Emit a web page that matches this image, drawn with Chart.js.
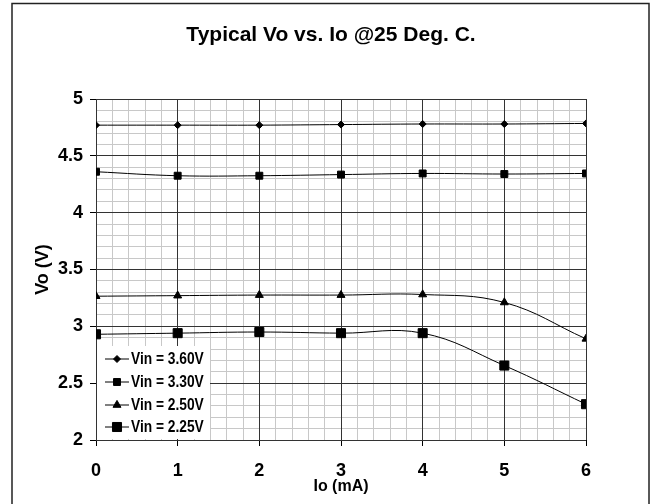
<!DOCTYPE html>
<html>
<head>
<meta charset="utf-8">
<script src="https://cdn.jsdelivr.net/npm/chart.js@4/dist/chart.umd.min.js"></script>
<style>
  html, body { margin: 0; padding: 0; background: #fff; }
  #wrap { width: 654px; height: 504px; }
</style>
</head>
<body>
<div id="wrap"><canvas id="vo-chart" width="654" height="504"></canvas></div>
<script>
const FONT = '"Liberation Sans", Arial, sans-serif';

// data
const ioValues = [0, 1, 2, 3, 4, 5, 6];
const vin360 = [4.77, 4.77, 4.77, 4.775, 4.78, 4.78, 4.785];
const vin330 = [4.36, 4.325, 4.325, 4.335, 4.345, 4.34, 4.345];
const vin250 = [3.265, 3.27, 3.275, 3.275, 3.28, 3.21, 2.89];
const vin225 = [2.93, 2.94, 2.95, 2.94, 2.94, 2.655, 2.315];

const chartTitle = 'Typical Vo vs. Io @25 Deg. C.';
const seriesLabels = ['Vin = 3.60V', 'Vin = 3.30V', 'Vin = 2.50V', 'Vin = 2.25V'];
const xTickLabels = [0, 1, 2, 3, 4, 5, 6];
const yTickLabels = [2, 2.5, 3, 3.5, 4, 4.5, 5];
const xMinorStep = 0.2;
const yMinorStep = 0.1;

const markers = [
    { style: 'rectRot', radius: 3.5 },
    { style: 'rect', radius: 4.9 },
    { style: 'triangle', radius: 4.6 },
    { style: 'rect', radius: 6.4 }
];

const toPoints = (ys) => ys.map((y, i) => ({ x: ioValues[i], y: y }));

const isMajor = (v, list) => list.some(t => Math.abs(t - v) < 1e-6);

// same rounding chart.js uses for 1px grid lines
const alignPx = (p) => Math.round(p - 0.5) + 0.5;

function minorTicks(min, max, step) {
    const out = [];
    const n = Math.round((max - min) / step);
    for (let i = 0; i <= n; i++) out.push({ value: +(min + i * step).toFixed(4) });
    return out;
}

function makeSet(label, ys, m) {
    return {
        label: label,
        data: toPoints(ys),
        borderColor: '#000',
        borderWidth: 1,
        backgroundColor: '#000',
        pointStyle: m.style,
        pointRadius: m.radius,
        pointHoverRadius: m.radius,
        pointBackgroundColor: '#000',
        pointBorderColor: '#000',
        pointBorderWidth: 1,
        tension: 0.4,
        fill: false
    };
}

function drawMarker(ctx, style, r, x, y) {
    ctx.beginPath();
    if (style === 'rect') {
        const s = r * Math.SQRT1_2;
        ctx.rect(x - s, y - s, 2 * s, 2 * s);
    } else if (style === 'rectRot') {
        ctx.moveTo(x - r, y); ctx.lineTo(x, y - r); ctx.lineTo(x + r, y); ctx.lineTo(x, y + r);
        ctx.closePath();
    } else {
        for (let k = 0; k < 3; k++) {
            const a = -Math.PI / 2 + k * 2 * Math.PI / 3;
            const px = x + Math.cos(a) * r, py = y + Math.sin(a) * r;
            k === 0 ? ctx.moveTo(px, py) : ctx.lineTo(px, py);
        }
        ctx.closePath();
    }
    ctx.fill();
    ctx.stroke();
}

// outer frame, title, major grid on top of the minor one, inside legend box
const framePlugin = {
    id: 'frame',
    beforeDraw(chart) {
        const ctx = chart.ctx;
        ctx.save();
        ctx.fillStyle = '#fff';
        ctx.fillRect(0, 0, chart.width, chart.height);
        ctx.strokeStyle = '#222';
        ctx.lineWidth = 1.5;
        ctx.strokeRect(12, 3.5, 637, 520);
        ctx.font = 'bold 21px ' + FONT;
        ctx.fillStyle = '#000';
        ctx.textAlign = 'center';
        ctx.textBaseline = 'middle';
        ctx.fillText(chartTitle, 331, 35);
        ctx.restore();
    },
    beforeDatasetsDraw(chart) {
        const ctx = chart.ctx;
        const a = chart.chartArea;
        const xs = chart.scales.x, ys = chart.scales.y;
        ctx.save();
        ctx.strokeStyle = '#333';
        ctx.lineWidth = 1;
        ctx.beginPath();
        xTickLabels.forEach(v => {
            const px = alignPx(xs.getPixelForValue(v));
            ctx.moveTo(px, a.top); ctx.lineTo(px, a.bottom);
        });
        yTickLabels.forEach(v => {
            const py = alignPx(ys.getPixelForValue(v));
            ctx.moveTo(a.left, py); ctx.lineTo(a.right, py);
        });
        ctx.stroke();
        ctx.restore();
    },
    afterDraw(chart) {
        const ctx = chart.ctx;
        ctx.save();
        ctx.fillStyle = '#fff';
        ctx.fillRect(97, 346, 113, 93);
        const rows = [359, 382, 405, 427];
        ctx.strokeStyle = '#000';
        ctx.fillStyle = '#000';
        ctx.lineWidth = 1;
        rows.forEach((ry, i) => {
            ctx.beginPath();
            ctx.moveTo(105, ry);
            ctx.lineTo(129, ry);
            ctx.stroke();
            drawMarker(ctx, markers[i].style, markers[i].radius, 117, ry);
            ctx.save();
            ctx.translate(131, ry);
            ctx.scale(0.86, 1);
            ctx.font = 'bold 16px ' + FONT;
            ctx.textBaseline = 'middle';
            ctx.textAlign = 'left';
            ctx.fillText(seriesLabels[i], 0, 1);
            ctx.restore();
        });
        ctx.restore();
    }
};

Chart.defaults.font.family = FONT;
Chart.defaults.color = '#000';

new Chart(document.getElementById('vo-chart').getContext('2d'), {
    type: 'line',
    data: {
        datasets: [
            makeSet(seriesLabels[0], vin360, markers[0]),
            makeSet(seriesLabels[1], vin330, markers[1]),
            makeSet(seriesLabels[2], vin250, markers[2]),
            makeSet(seriesLabels[3], vin225, markers[3])
        ]
    },
    options: {
        responsive: false,
        animation: false,
        devicePixelRatio: 1,
        layout: { padding: { left: 0, right: 68, top: 99, bottom: 0 } },
        plugins: {
            legend: { display: false },
            tooltip: { enabled: false },
            title: { display: false }
        },
        scales: {
            x: {
                type: 'linear',
                min: 0,
                max: 6,
                afterBuildTicks: (scale) => { scale.ticks = minorTicks(0, 6, xMinorStep); },
                afterFit: (scale) => { scale.height = 64; },
                ticks: {
                    autoSkip: false,
                    maxRotation: 0,
                    padding: 14,
                    font: { size: 18, weight: 'bold' },
                    callback: (v) => isMajor(v, xTickLabels) ? String(Math.round(v)) : ''
                },
                grid: {
                    color: (c) => isMajor(c.tick.value, xTickLabels) ? '#333' : '#c8c8c8',
                    tickColor: (c) => isMajor(c.tick.value, xTickLabels) ? '#000' : 'rgba(0,0,0,0)',
                    tickLength: 6,
                    lineWidth: 1
                },
                border: { color: '#000', width: 1 },
                title: {
                    display: true,
                    text: 'Io (mA)',
                    font: { size: 16, weight: 'bold' },
                    padding: { top: 0, bottom: 8 }
                }
            },
            y: {
                type: 'linear',
                min: 2,
                max: 5,
                afterBuildTicks: (scale) => { scale.ticks = minorTicks(2, 5, yMinorStep); },
                afterFit: (scale) => { scale.width = 96; },
                ticks: {
                    autoSkip: false,
                    padding: 7,
                    font: { size: 18, weight: 'bold' },
                    callback: (v) => isMajor(v, yTickLabels) ? String(v) : ''
                },
                grid: {
                    color: (c) => isMajor(c.tick.value, yTickLabels) ? '#333' : '#c8c8c8',
                    tickColor: (c) => isMajor(c.tick.value, yTickLabels) ? '#000' : 'rgba(0,0,0,0)',
                    tickLength: 6,
                    lineWidth: 1
                },
                border: { color: '#000', width: 1 },
                title: {
                    display: true,
                    text: 'Vo (V)',
                    font: { size: 18, weight: 'bold' },
                    padding: { top: 32, bottom: 0 }
                }
            }
        }
    },
    plugins: [framePlugin]
});
</script>
</body>
</html>
